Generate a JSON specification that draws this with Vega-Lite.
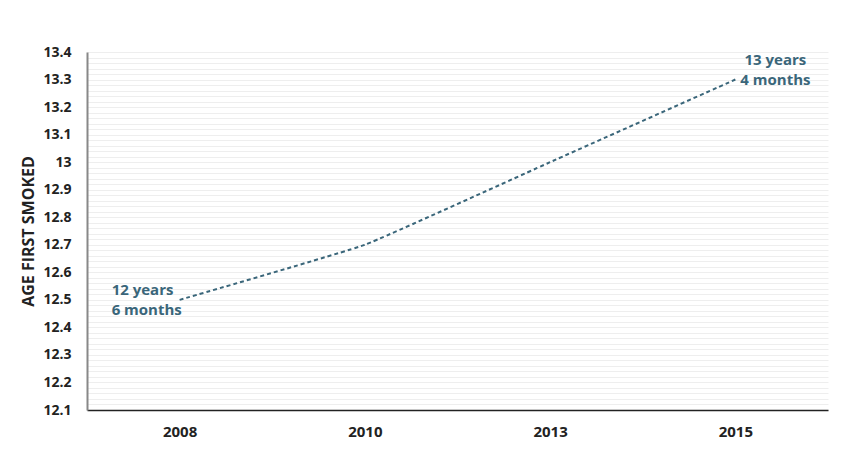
{
  "$schema": "https://vega.github.io/schema/vega-lite/v6.json",
  "width": 741,
  "height": 358,
  "autosize": {"type": "none"},
  "padding": {"left": 87, "top": 52, "right": 20, "bottom": 48},
  "background": "white",
  "config": {
    "view": {"stroke": null},
    "font": "Open Sans",
    "axis": {
      "labelFont": "Open Sans",
      "labelFontWeight": "bold",
      "labelFontSize": 14,
      "labelColor": "#222222",
      "titleFont": "Open Sans",
      "titleFontWeight": "bold",
      "titleFontSize": 16,
      "titleColor": "#222222",
      "ticks": false
    }
  },
  "data": {
    "values": [
      {"year": "2008", "age": 12.5, "label": "12 years\n6 months"},
      {"year": "2010", "age": 12.7, "label": ""},
      {"year": "2013", "age": 13.0, "label": ""},
      {"year": "2015", "age": 13.3, "label": "13 years\n4 months"}
    ]
  },
  "encoding": {
    "x": {
      "field": "year",
      "type": "ordinal",
      "scale": {"type": "point", "padding": 0.5},
      "axis": {
        "title": null,
        "labelAngle": 0,
        "labelFontSize": 15,
        "labelPadding": 14,
        "domainColor": "#222222",
        "domainWidth": 1.5,
        "grid": false
      }
    },
    "y": {
      "field": "age",
      "type": "quantitative",
      "scale": {"domain": [12.1, 13.4], "nice": false, "zero": false},
      "axis": {
        "title": "AGE FIRST SMOKED",
        "titlePadding": 6,
        "labelPadding": 16,
        "values": [12.1, 12.12, 12.14, 12.16, 12.18, 12.2, 12.22, 12.24, 12.26, 12.28, 12.3, 12.32, 12.34, 12.36, 12.38, 12.4, 12.42, 12.44, 12.46, 12.48, 12.5, 12.52, 12.54, 12.56, 12.58, 12.6, 12.62, 12.64, 12.66, 12.68, 12.7, 12.72, 12.74, 12.76, 12.78, 12.8, 12.82, 12.84, 12.86, 12.88, 12.9, 12.92, 12.94, 12.96, 12.98, 13.0, 13.02, 13.04, 13.06, 13.08, 13.1, 13.12, 13.14, 13.16, 13.18, 13.2, 13.22, 13.24, 13.26, 13.28, 13.3, 13.32, 13.34, 13.36, 13.38, 13.4],
        "labelExpr": "abs(datum.value * 10 - round(datum.value * 10)) < 0.001 ? format(datum.value, '.3~g') : ''",
        "grid": true,
        "gridColor": "#eeeeee",
        "gridWidth": 1,
        "domainColor": "#888888",
        "domainWidth": 2
      }
    }
  },
  "layer": [
    {
      "mark": {
        "type": "line",
        "color": "#3a667a",
        "strokeWidth": 2,
        "strokeDash": [4, 3],
        "interpolate": "cardinal",
        "tension": 0.7
      }
    },
    {
      "transform": [{"filter": "datum.year == '2008'"}],
      "mark": {
        "type": "text",
        "align": "left",
        "baseline": "middle",
        "lineBreak": "\n",
        "dx": -68,
        "dy": -10,
        "lineHeight": 20,
        "font": "Open Sans",
        "fontSize": 15,
        "fontWeight": "bold",
        "color": "#3a667a"
      },
      "encoding": {"text": {"field": "label"}}
    },
    {
      "transform": [{"filter": "datum.year == '2015'"}],
      "mark": {
        "type": "text",
        "align": "center",
        "baseline": "middle",
        "lineBreak": "\n",
        "dx": 40,
        "dy": -20,
        "lineHeight": 20,
        "font": "Open Sans",
        "fontSize": 15,
        "fontWeight": "bold",
        "color": "#3a667a"
      },
      "encoding": {"text": {"field": "label"}}
    }
  ]
}
